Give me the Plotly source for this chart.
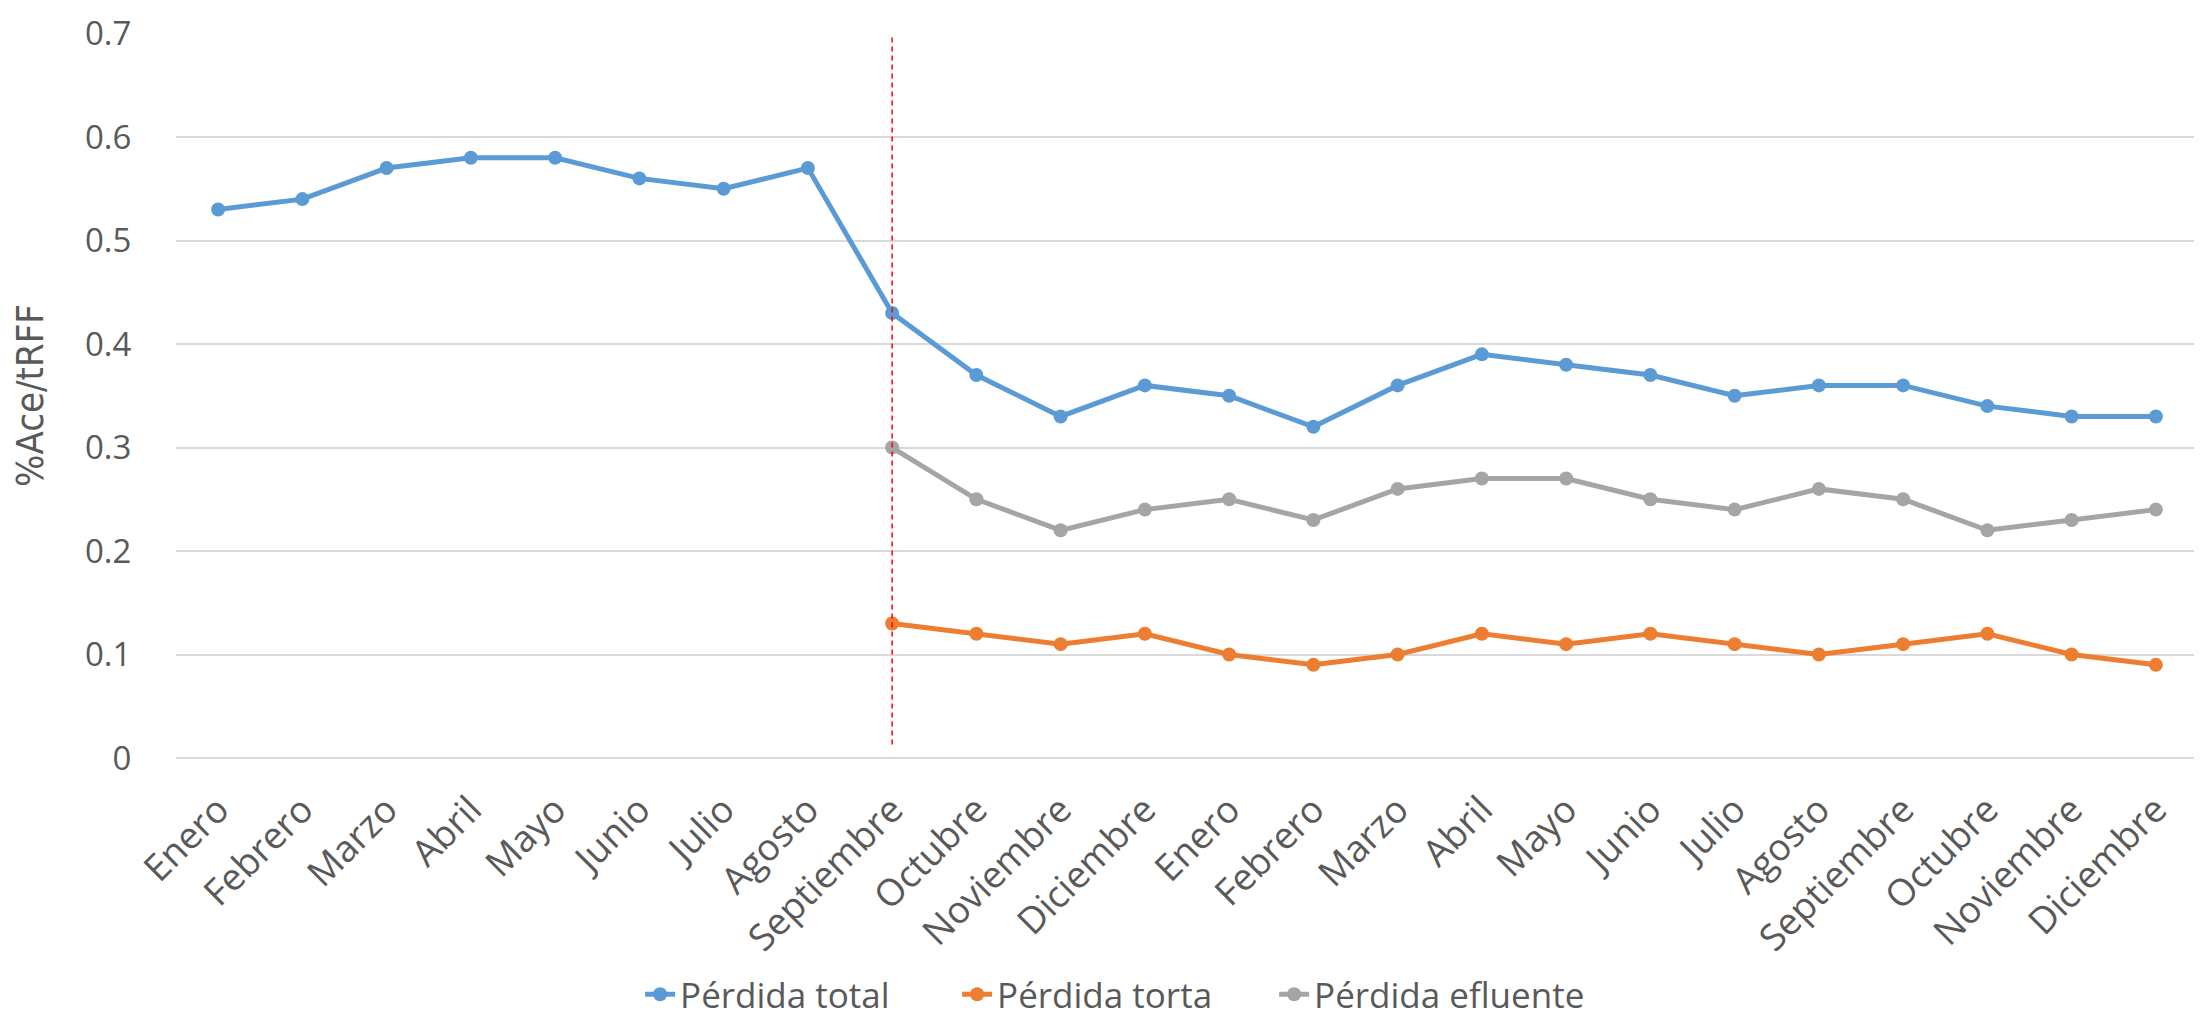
import plotly.graph_objects as go

months = ["Enero", "Febrero", "Marzo", "Abril", "Mayo", "Junio", "Julio", "Agosto",
          "Septiembre", "Octubre", "Noviembre", "Diciembre",
          "Enero", "Febrero", "Marzo", "Abril", "Mayo", "Junio", "Julio", "Agosto",
          "Septiembre", "Octubre", "Noviembre", "Diciembre"]
perdida_total = [0.53, 0.54, 0.57, 0.58, 0.58, 0.56, 0.55, 0.57, 0.43, 0.37, 0.33, 0.36,
                 0.35, 0.32, 0.36, 0.39, 0.38, 0.37, 0.35, 0.36, 0.36, 0.34, 0.33, 0.33]
perdida_torta = [None] * 8 + [0.13, 0.12, 0.11, 0.12, 0.10, 0.09, 0.10, 0.12,
                              0.11, 0.12, 0.11, 0.10, 0.11, 0.12, 0.10, 0.09]
perdida_efluente = [None] * 8 + [0.30, 0.25, 0.22, 0.24, 0.25, 0.23, 0.26, 0.27,
                                 0.27, 0.25, 0.24, 0.26, 0.25, 0.22, 0.23, 0.24]
marker_index = 8  # Septiembre (first year) — vertical reference line
marker_line_range = [0.013, 0.7]
y_ticks = [0, 0.1, 0.2, 0.3, 0.4, 0.5, 0.6, 0.7]
y_ticktext = ["0", "0.1", "0.2", "0.3", "0.4", "0.5", "0.6", "0.7"]

x = list(range(len(months)))
FONT = "Open Sans"
TXT = "#595959"

fig = go.Figure()
series = [("Pérdida total", perdida_total, "#5B9BD5"),
          ("Pérdida torta", perdida_torta, "#ED7D31"),
          ("Pérdida efluente", perdida_efluente, "#A5A5A5")]
for name, vals, col in series:
    fig.add_trace(go.Scatter(x=x, y=vals, name=name, mode="lines+markers",
                             line=dict(color=col, width=5),
                             marker=dict(color=col, size=14),
                             connectgaps=False))

fig.add_trace(go.Scatter(x=[marker_index, marker_index], y=marker_line_range,
                         mode="lines", showlegend=False, hoverinfo="skip",
                         line=dict(color="#FF0000", width=1.5, dash="5px,4px")))

fig.update_layout(
    width=2202, height=1017,
    margin=dict(l=168, r=12, t=25, b=267, autoexpand=False),
    paper_bgcolor="white", plot_bgcolor="white",
    font=dict(family=FONT, color=TXT, size=34),
    showlegend=True,
    legend=dict(orientation="h", x=0.503, xref="container", xanchor="center",
                y=0.03, yanchor="middle", yref="container",
                font=dict(size=35, color=TXT, family=FONT),
                traceorder="normal", entrywidth=272, entrywidthmode="pixels"),
    xaxis=dict(range=[-0.5, len(months) - 0.5], tickvals=x, ticktext=months,
               tickangle=-45, showgrid=False, zeroline=False, showline=False,
               automargin=False,
               tickfont=dict(size=37, color=TXT, family=FONT),
               ticks="outside", ticklen=14, tickcolor="rgba(0,0,0,0)"),
    yaxis=dict(range=[0, 0.7005], tickvals=y_ticks, ticktext=y_ticktext, showgrid=True,
               gridcolor="#D9D9D9", gridwidth=1.5, zeroline=True,
               zerolinecolor="#D9D9D9", zerolinewidth=1.5, showline=False,
               automargin=False, ticklabeloverflow="allow",
               tickfont=dict(size=33, color=TXT, family=FONT),
               ticks="outside", ticklen=37, tickcolor="rgba(0,0,0,0)",
               title=dict(text="%Ace/tRFF",
                          font=dict(size=38, color=TXT, family="DejaVu Sans Condensed"),
                          standoff=34)),
)

fig.write_html("out.html")
